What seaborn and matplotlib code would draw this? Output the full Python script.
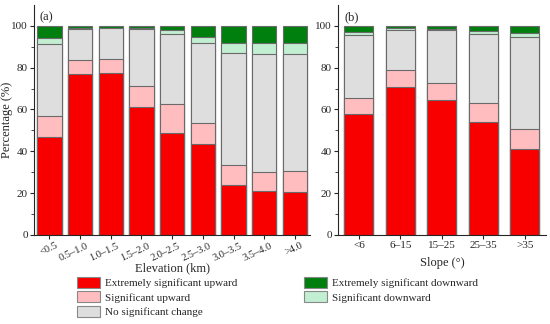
import numpy as np
import pandas as pd
import matplotlib
matplotlib.use("Agg")
import matplotlib.pyplot as plt
import matplotlib.transforms as mtransforms
import seaborn as sns
from matplotlib.patches import Patch

# Données (%)
elev_cats = ["<0.5", "0.5–1.0", "1.0–1.5", "1.5–2.0", "2.0–2.5",
             "2.5–3.0", "3.0–3.5", "3.5–4.0", ">4.0"]
elev_ext_up = [46.7, 77.0, 77.3, 61.0, 48.5, 43.7, 23.7, 20.8, 20.5]
elev_sig_up = [10.1, 6.4, 6.7, 10.4, 14.2, 9.9, 9.9, 9.3, 10.2]
elev_no_chg = [34.7, 15.2, 14.7, 27.0, 33.6, 38.4, 53.6, 56.6, 56.0]
elev_sig_dn = [2.6, 0.4, 0.3, 0.5, 1.5, 2.7, 4.6, 5.0, 5.0]
elev_ext_dn = [5.9, 1.0, 1.0, 1.1, 2.2, 5.3, 8.2, 8.3, 8.3]

slope_cats = ["<6", "6–15", "15–25", "25–35", ">35"]
slope_ext_up = [57.8, 70.7, 64.3, 54.2, 41.0]
slope_sig_up = [7.8, 8.3, 8.5, 8.7, 9.7]
slope_no_chg = [29.9, 18.9, 25.0, 33.4, 43.7]
slope_sig_dn = [1.6, 0.8, 0.6, 1.3, 2.2]
slope_ext_dn = [2.9, 1.3, 1.6, 2.4, 3.4]

labels = ["Extremely significant upward", "Significant upward",
          "No significant change", "Extremely significant downward",
          "Significant downward"]
colors = {"Extremely significant upward": "#F80000",
          "Significant upward": "#FFBDC0",
          "No significant change": "#DEDEDE",
          "Significant downward": "#C2EED2",
          "Extremely significant downward": "#007F0E"}

sns.set_style("ticks")
plt.rcParams["font.family"] = ["Liberation Serif", "DejaVu Serif"]
plt.rcParams["font.size"] = 8


def stacked(ax, cats, parts, width):
    # ordre d'empilement : bas -> haut
    stack_order = ["Extremely significant upward", "Significant upward",
                   "No significant change", "Significant downward",
                   "Extremely significant downward"]
    df = pd.DataFrame(parts, index=cats)[stack_order]
    cum = df.cumsum(axis=1)
    # on dessine du plus haut au plus bas (superposition)
    for name in stack_order[::-1]:
        sns.barplot(x=cats, y=cum[name].values, order=cats, color=colors[name],
                    width=width, edgecolor="#6a6a6a", linewidth=0.8,
                    saturation=1, ax=ax)
    ax.set_ylim(0, 110)
    ax.set_yticks(np.arange(0, 101, 20))
    ax.set_yticks(np.arange(10, 100, 20), minor=True)
    ax.tick_params(axis="both", which="major", length=3, width=0.8,
                   labelsize=8, pad=1.5)
    ax.tick_params(axis="y", which="minor", length=2, width=0.6)
    sns.despine(ax=ax)
    for s in ["left", "bottom"]:
        ax.spines[s].set_linewidth(0.8)


fig = plt.figure(figsize=(5.5, 3.24), dpi=100)
ax1 = fig.add_axes([0.062, 0.275, 0.502, 0.71])
ax2 = fig.add_axes([0.615, 0.275, 0.377, 0.71])

stacked(ax1, elev_cats, {"Extremely significant upward": elev_ext_up,
                         "Significant upward": elev_sig_up,
                         "No significant change": elev_no_chg,
                         "Significant downward": elev_sig_dn,
                         "Extremely significant downward": elev_ext_dn}, 0.8)
stacked(ax2, slope_cats, {"Extremely significant upward": slope_ext_up,
                          "Significant upward": slope_sig_up,
                          "No significant change": slope_no_chg,
                          "Significant downward": slope_sig_dn,
                          "Extremely significant downward": slope_ext_dn}, 0.7)

ax1.set_xticks(range(len(elev_cats)))
ax1.set_xticklabels(elev_cats, rotation=25, ha="right", rotation_mode="anchor",
                    fontsize=7.5)
shift = mtransforms.ScaledTranslation(6 / 100, 0, fig.dpi_scale_trans)
for lab in ax1.get_xticklabels():
    lab.set_transform(lab.get_transform() + shift)
ax1.set_ylabel("Percentage (%)", fontsize=9)
ax1.yaxis.set_label_coords(-0.078, 0.5)
ax1.set_xlabel("Elevation (km)", fontsize=9)
ax1.xaxis.set_label_coords(0.5, -0.12)
ax2.set_xlabel("Slope (°)", fontsize=9)
ax2.xaxis.set_label_coords(0.5, -0.095)
ax2.set_ylabel("")
ax1.text(0.02, 0.97, "(a)", transform=ax1.transAxes, fontsize=9, va="top")
ax2.text(0.03, 0.97, "(b)", transform=ax2.transAxes, fontsize=9, va="top")

handles = [Patch(facecolor=colors[l], edgecolor="#888888", linewidth=0.8, label=l)
           for l in labels]
fig.legend(handles=handles, ncol=2, loc="upper left", bbox_to_anchor=(0.14, 0.145),
           frameon=False, fontsize=8, handlelength=2.1, handleheight=1.1,
           labelspacing=0.3, columnspacing=6.0, handletextpad=0.4,
           borderaxespad=0, borderpad=0)

fig.savefig("out.png", dpi=100)
